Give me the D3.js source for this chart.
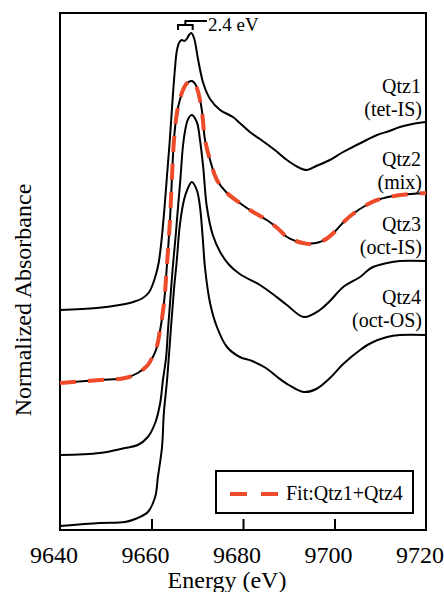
<!DOCTYPE html>
<html>
<head>
<meta charset="utf-8">
<script src="https://cdn.jsdelivr.net/npm/d3@7"></script>
<style>
  html, body { margin: 0; padding: 0; background: #fff; }
</style>
</head>
<body>
<div id="chart"></div>
<script>
// XANES spectra, offset normalized absorbance vs energy

var xTicks = [9640, 9660, 9680, 9700, 9720];
var xTickMarks = [9660, 9680, 9700];

var labels = [
    ["Qtz1", "(tet-IS)"],
    ["Qtz2", "(mix)"],
    ["Qtz3", "(oct-IS)"],
    ["Qtz4", "(oct-OS)"]
];
var labelY = [4.37, 3.64, 2.99, 2.26]; // baseline of first line, in data units

var qtz1 = [
    [9640, 2.20], [9648, 2.22], [9653, 2.25], [9656, 2.28], [9658.1, 2.32],
    [9659.5, 2.38], [9660.3, 2.46], [9661, 2.56], [9661.6, 2.68], [9662.2, 2.90],
    [9662.8, 3.20], [9663.4, 3.55], [9664, 3.90], [9664.6, 4.30], [9665.1, 4.60],
    [9665.5, 4.78], [9666, 4.87], [9666.6, 4.90], [9667.2, 4.89], [9667.7, 4.91],
    [9668.2, 4.95], [9668.7, 4.97], [9669.3, 4.92], [9670.2, 4.70], [9671.3, 4.47],
    [9672.8, 4.31], [9675, 4.20], [9677.8, 4.13], [9679.3, 4.07], [9681.5, 3.98],
    [9683.7, 3.91], [9685.2, 3.86], [9687.5, 3.78], [9689.6, 3.70], [9692, 3.63],
    [9694, 3.60], [9696, 3.64], [9699, 3.70], [9701.5, 3.77], [9704, 3.83],
    [9707, 3.90], [9709.3, 3.95], [9712, 3.99], [9714.3, 4.03], [9717, 4.06],
    [9720, 4.08]
];

var qtz2 = [
    [9640, 1.47], [9648.7, 1.50], [9654.2, 1.52], [9657, 1.57], [9659.2, 1.65],
    [9660.3, 1.73], [9661.2, 1.83], [9661.9, 2.00], [9662.4, 2.15], [9662.9, 2.35],
    [9663.3, 2.60], [9664, 3.07], [9664.5, 3.55], [9664.9, 3.90], [9665.5, 4.15],
    [9666.2, 4.30], [9667.3, 4.43], [9668.1, 4.48], [9668.85, 4.49], [9669.9, 4.43],
    [9671, 4.20], [9671.7, 3.90], [9672.8, 3.70], [9674.3, 3.50], [9676.5, 3.37],
    [9679.3, 3.27], [9681.5, 3.20], [9685.2, 3.10], [9687.5, 3.02], [9689.6, 2.93],
    [9691.5, 2.89], [9693.1, 2.87], [9695, 2.865], [9696.8, 2.88], [9698.5, 2.92],
    [9700, 2.98], [9702, 3.08], [9704, 3.16], [9707, 3.25], [9709.3, 3.30],
    [9714.3, 3.35], [9720, 3.37]
];

var qtz3 = [
    [9640, 0.75], [9648.7, 0.77], [9654.2, 0.82], [9657, 0.85], [9659.2, 0.93],
    [9660.8, 1.07], [9661.9, 1.27], [9662.5, 1.50], [9663.2, 1.73], [9663.6, 2.00],
    [9664.1, 2.30], [9664.6, 2.60], [9665.3, 2.95], [9665.8, 3.23], [9666.3, 3.50],
    [9666.9, 3.85], [9667.5, 4.03], [9668, 4.11], [9668.8, 4.15], [9669.9, 4.08],
    [9670.6, 3.90], [9671.3, 3.63], [9672.1, 3.23], [9673.4, 2.95], [9675, 2.78],
    [9677, 2.65], [9679.3, 2.56], [9683.7, 2.45], [9686.5, 2.36], [9689.6, 2.25],
    [9693.3, 2.13], [9696.8, 2.20], [9699, 2.29], [9701.9, 2.43], [9705.6, 2.53],
    [9708, 2.62], [9711.5, 2.67], [9714.3, 2.69], [9720, 2.69]
];

var qtz4 = [
    [9640, 0.04], [9648.7, 0.07], [9654.2, 0.08], [9657, 0.12], [9659.2, 0.18],
    [9660.8, 0.33], [9661.4, 0.53], [9662.3, 0.83], [9662.7, 1.17], [9663.4, 1.50],
    [9664.3, 2.05], [9664.9, 2.40], [9665.5, 2.68], [9666.2, 3.05], [9667.1, 3.30],
    [9667.8, 3.40], [9668.8, 3.48], [9669.9, 3.40], [9670.6, 3.23], [9671.2, 2.92],
    [9671.7, 2.62], [9672.8, 2.27], [9674.3, 2.03], [9676.5, 1.83], [9679.3, 1.73],
    [9682, 1.69], [9685, 1.62], [9687.5, 1.53], [9690, 1.45], [9693.3, 1.38],
    [9696, 1.41], [9699, 1.52], [9701.9, 1.66], [9705.6, 1.80], [9708, 1.87],
    [9711.5, 1.93], [9714.3, 1.95], [9720, 1.95]
];

// linear combination fit, Qtz1 + Qtz4, plotted over Qtz2
var fitQ1Q4 = [
    [9640, 1.47], [9648.7, 1.50], [9654.2, 1.52], [9657, 1.57], [9659.2, 1.65],
    [9660.3, 1.74], [9661.2, 1.84], [9661.9, 2.01], [9662.4, 2.15], [9662.9, 2.35],
    [9663.3, 2.60], [9664, 3.07], [9664.5, 3.55], [9664.9, 3.89], [9665.5, 4.15],
    [9666.2, 4.31], [9667.3, 4.44], [9668.1, 4.48], [9668.85, 4.49], [9669.9, 4.42],
    [9671, 4.19], [9671.7, 3.90], [9672.8, 3.70], [9674.3, 3.50], [9676.5, 3.37],
    [9679.3, 3.27], [9681.5, 3.20], [9685.2, 3.10], [9687.5, 3.02], [9689.6, 2.93],
    [9691.5, 2.89], [9693.1, 2.87], [9695, 2.86], [9696.8, 2.88], [9698.5, 2.92],
    [9700, 2.98], [9702, 3.08], [9704, 3.16], [9707, 3.25], [9709.3, 3.30],
    [9714.3, 3.35], [9720, 3.37]
];

var peakBracket = [9665.8, 9669.0]; // the two maxima of Qtz1
var peakLabel = "2.4 eV";
var legendLabel = "Fit:Qtz1+Qtz4";

var xas = xas || {};

xas.chart = {
    param: {
	width: 444,
	height: 592,
	left: 60,
	right: 426,
	top: 13,
	bottom: 530,
	yMax: 5.17,
	font: "'Liberation Serif', 'DejaVu Serif', serif",
	fitColor: "#ee4b2b"
    },

    init: function(renderDiv){
	var param = xas.chart.param;
	var svg = d3.select(renderDiv).append("svg")
	    .attr("width", param.width)
	    .attr("height", param.height)
	    .style("font-family", param.font);

	var x = d3.scaleLinear().domain([9640, 9720]).range([param.left, param.right]);
	var y = d3.scaleLinear().domain([0, param.yMax]).range([param.bottom, param.top]);

	xas.chart.frame(svg, x, y);
	xas.chart.spectra(svg, x, y);
	xas.chart.notes(svg, x, y);
	svg.selectAll("text").attr("font-family", param.font).attr("fill", "#000");
    },

    frame: function(svg, x, y){
	var param = xas.chart.param;
	var axis = d3.axisBottom(x).tickValues(xTickMarks).tickSize(-11).tickFormat("");
	var g = svg.append("g").attr("transform", "translate(0," + param.bottom + ")").call(axis);
	g.select(".domain").remove();
	g.selectAll(".tick line").attr("stroke", "#000").attr("stroke-width", 2);

	svg.selectAll("text.xtick").data(xTicks).enter().append("text")
	    .attr("class", "xtick")
	    .attr("x", function(d){ return x(d) - 6; })
	    .attr("y", 563)
	    .attr("text-anchor", "middle")
	    .attr("font-size", 24)
	    .text(function(d){ return d; });

	svg.append("rect")
	    .attr("x", param.left).attr("y", param.top)
	    .attr("width", param.right - param.left)
	    .attr("height", param.bottom - param.top)
	    .attr("fill", "none").attr("stroke", "#000").attr("stroke-width", 2);

	svg.append("text")
	    .attr("x", 227).attr("y", 588)
	    .attr("text-anchor", "middle").attr("font-size", 24)
	    .text("Energy (eV)");

	svg.append("text")
	    .attr("transform", "translate(31,300) rotate(-90)")
	    .attr("text-anchor", "middle").attr("font-size", 24)
	    .text("Normalized Absorbance");
    },

    spectra: function(svg, x, y){
	var param = xas.chart.param;
	var line = d3.line()
	    .x(function(d){ return x(d[0]); })
	    .y(function(d){ return y(d[1]); })
	    .curve(d3.curveCatmullRom.alpha(0.5));

	svg.selectAll("path.spec").data([qtz1, qtz2, qtz3, qtz4]).enter().append("path")
	    .attr("class", "spec")
	    .attr("d", line)
	    .attr("fill", "none").attr("stroke", "#000").attr("stroke-width", 2);

	svg.append("path")
	    .attr("d", line(fitQ1Q4))
	    .attr("fill", "none")
	    .attr("stroke", param.fitColor)
	    .attr("stroke-width", 4)
	    .attr("stroke-dasharray", "16,12");

	var lab = svg.selectAll("g.lab").data(labels).enter().append("g").attr("class", "lab");
	lab.append("text")
	    .attr("x", 421).attr("y", function(d, i){ return y(labelY[i]); })
	    .attr("text-anchor", "end").attr("font-size", 20)
	    .text(function(d){ return d[0]; });
	lab.append("text")
	    .attr("x", 422).attr("y", function(d, i){ return y(labelY[i]) + 23; })
	    .attr("text-anchor", "end").attr("font-size", 20)
	    .text(function(d){ return d[1]; });
    },

    notes: function(svg, x, y){
	var param = xas.chart.param;
	var x0 = x(peakBracket[0]), x1 = x(peakBracket[1]);
	var xm = (x0 + x1) / 2;
	var path = d3.path();
	path.moveTo(x0, 30); path.lineTo(x0, 25); path.lineTo(x1, 25); path.lineTo(x1, 30);
	path.moveTo(xm, 25); path.lineTo(xm, 21); path.lineTo(207, 21);
	svg.append("path").attr("d", path.toString())
	    .attr("fill", "none").attr("stroke", "#000").attr("stroke-width", 2);
	svg.append("text").attr("x", 208).attr("y", 31).attr("font-size", 19).text(peakLabel);

	// legend
	var lg = svg.append("g").attr("transform", "translate(216,471)");
	lg.append("rect").attr("width", 197).attr("height", 42)
	    .attr("fill", "#fff").attr("stroke", "#000").attr("stroke-width", 2);
	lg.append("line").attr("x1", 14).attr("x2", 62).attr("y1", 23).attr("y2", 23)
	    .attr("stroke", param.fitColor).attr("stroke-width", 4)
	    .attr("stroke-dasharray", "17,14");
	lg.append("text").attr("x", 70).attr("y", 29).attr("font-size", 20).text(legendLabel);
    }
};

xas.chart.init("#chart");
</script>
</body>
</html>
